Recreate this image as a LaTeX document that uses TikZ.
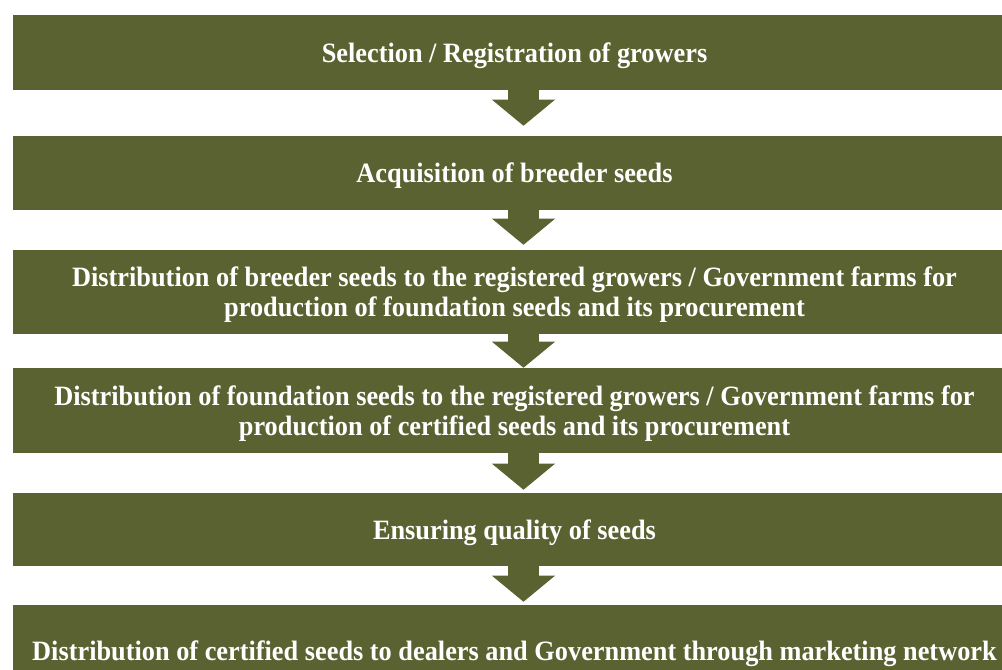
\documentclass[tikz,border=0pt]{standalone}
\usepackage{fontspec}
\setmainfont{Liberation Serif}[FakeStretch=0.94]
\usetikzlibrary{arrows.meta}
\definecolor{leaf}{RGB}{91,98,50}

\begin{document}
\begin{tikzpicture}[x=0.75pt, y=-0.75pt,
  stage/.style={fill=leaf, text=white, align=center, inner sep=0pt, text depth=0pt,
    minimum width=752.25pt, font=\fontsize{21}{22.5}\selectfont\bfseries},
  flow/.style={draw=leaf, line width=23.25pt,
    -{Triangle[width=47.25pt, length=19.5pt, line width'=0pt]}}]
  \useasboundingbox (0,0) rectangle (1002,669);
  \clip (0,0) rectangle (1002,669);
  \coordinate (axis) at (523.5,0);
  \node[stage, minimum height=56.25pt] (s1) at (514.5,52.5)
    {Selection / Registration of growers};
  \node[stage, minimum height=55.5pt] (s2) at (514.5,173)
    {Acquisition of breeder seeds};
  \node[stage, minimum height=63pt, text depth=-7.5pt] (s3) at (514.5,292)
    {Distribution of breeder seeds to the registered growers / Government farms for\\
     production of foundation seeds and its procurement};
  \node[stage, minimum height=63.75pt] (s4) at (514.5,410.5)
    {Distribution of foundation seeds to the registered growers / Government farms for\\
     production of certified seeds and its procurement};
  \node[stage, minimum height=54.75pt] (s5) at (514.5,529.5)
    {Ensuring quality of seeds};
  \node[stage, minimum height=69pt] (s6) at (514.5,651)
    {Distribution of certified seeds to dealers and Government through marketing network};
  % block arrows hang from the bottom edge of each stage
  \draw[flow, shorten >=7.5pt] (s1.south -| axis) -- (s2.north -| axis);
  \draw[flow, shorten >=3.75pt] (s2.south -| axis) -- (s3.north -| axis);
  \draw[flow] (s3.south -| axis) -- (s4.north -| axis);
  \draw[flow, shorten >=2.25pt] (s4.south -| axis) -- (s5.north -| axis);
  \draw[flow, shorten >=2.25pt] (s5.south -| axis) -- (s6.north -| axis);
\end{tikzpicture}
\end{document}
